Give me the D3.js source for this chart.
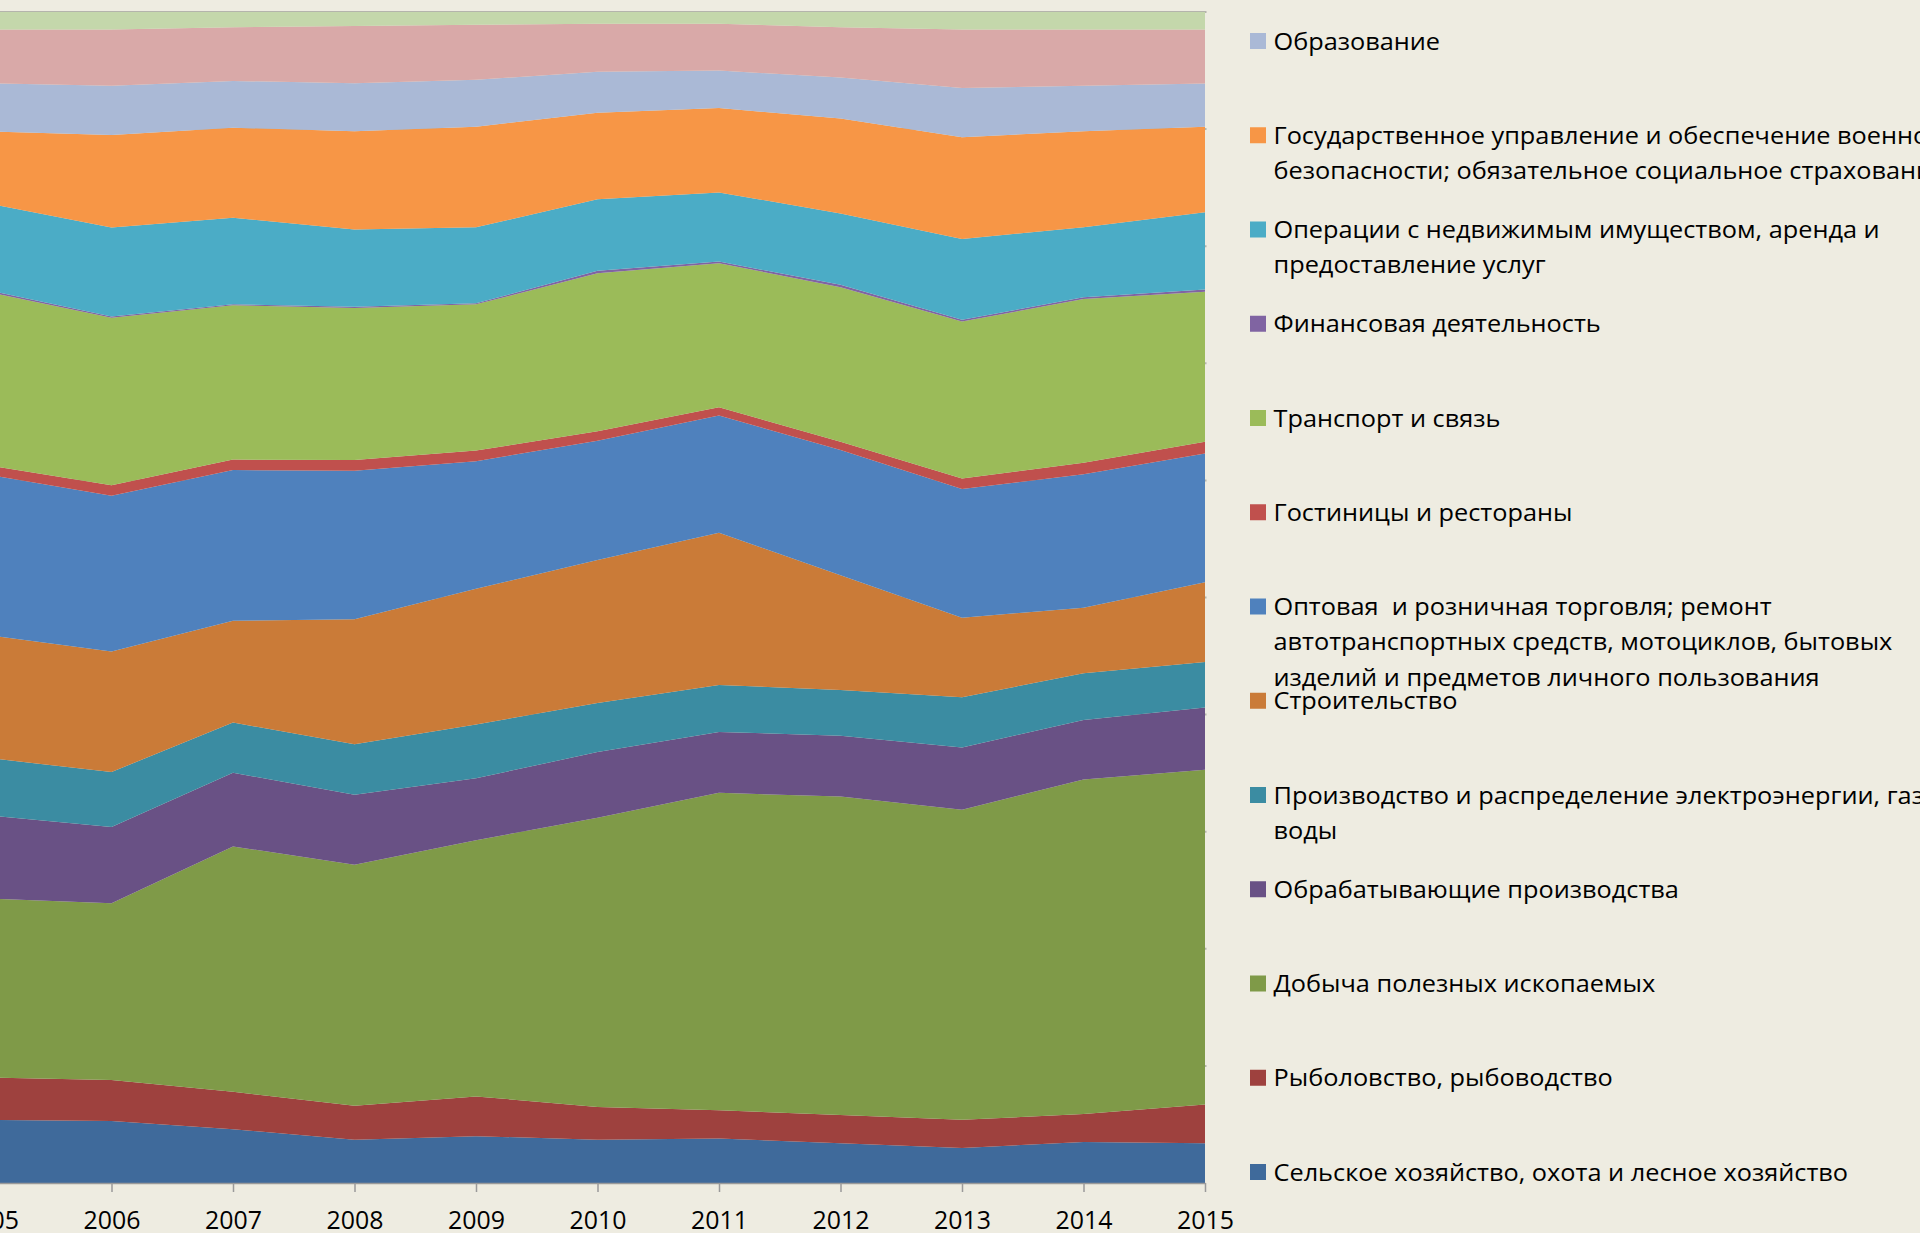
<!DOCTYPE html>
<html>
<head>
<meta charset="utf-8">
<script src="https://cdn.jsdelivr.net/npm/d3@7"></script>
<style>
  html, body { margin: 0; padding: 0; background: #EEECE1; overflow: hidden; }
  svg { display: block; }
</style>
</head>
<body>
<svg id="chart" width="1920" height="1233"></svg>
<script>
// годы по оси OX
const years = [2005, 2006, 2007, 2008, 2009, 2010, 2011, 2012, 2013, 2014, 2015];

// доли отраслей, % (снизу вверх)
const sAgri      = [5.4, 5.3, 4.6, 3.7, 4.0, 3.7, 3.8, 3.4, 3.0, 3.5, 3.4];
const sFish      = [3.6, 3.5, 3.2, 2.9, 3.4, 2.8, 2.4, 2.4, 2.4, 2.4, 3.3];
const sMining    = [15.3, 15.1, 21.0, 20.6, 21.9, 24.7, 27.1, 27.2, 26.5, 28.6, 28.6];
const sManuf     = [7.1, 6.5, 6.3, 6.0, 5.3, 5.6, 5.2, 5.2, 5.3, 5.1, 5.3];
const sEnergy    = [4.9, 4.7, 4.3, 4.3, 4.6, 4.2, 4.0, 3.9, 4.3, 4.0, 3.9];
const sConstr    = [10.5, 10.3, 8.7, 10.7, 11.6, 12.2, 13.0, 9.8, 6.8, 5.6, 6.8];
const sTrade     = [13.7, 13.3, 12.9, 12.7, 10.9, 10.2, 10.0, 10.7, 11.0, 11.4, 11.0];
const sHotels    = [0.8, 0.9, 0.9, 0.9, 0.9, 0.8, 0.7, 0.7, 0.9, 1.0, 1.0];
const sTransport = [14.8, 14.3, 13.2, 13.0, 12.5, 13.5, 12.3, 13.2, 13.4, 14.0, 12.8];
const sFinance   = [0.17, 0.11, 0.09, 0.11, 0.09, 0.21, 0.14, 0.2, 0.15, 0.14, 0.2];
const sRealty    = [7.4, 7.6, 7.4, 6.6, 6.5, 6.1, 5.9, 6.1, 6.9, 6.0, 6.6];
const sGov       = [6.2, 7.9, 7.7, 8.4, 8.6, 7.4, 7.2, 8.1, 8.7, 8.2, 7.3];
const sEdu       = [4.1, 4.2, 4.0, 4.1, 4.0, 3.5, 3.2, 3.5, 4.2, 3.9, 3.7];
const sHealth    = [4.6, 4.8, 4.6, 4.9, 4.7, 4.1, 4.0, 4.3, 5.0, 4.8, 4.6];
const sOther     = [1.5, 1.5, 1.3, 1.2, 1.1, 1.0, 1.0, 1.3, 1.5, 1.5, 1.5];

// подписи легенды (строки переноса как в оригинале)
const seriesNames = [
  ["Сельское хозяйство, охота и лесное хозяйство"],
  ["Рыболовство, рыбоводство"],
  ["Добыча полезных ископаемых"],
  ["Обрабатывающие производства"],
  ["Производство и распределение электроэнергии, газа и", "воды"],
  ["Строительство"],
  ["Оптовая  и розничная торговля; ремонт", "автотранспортных средств, мотоциклов, бытовых", "изделий и предметов личного пользования"],
  ["Гостиницы и рестораны"],
  ["Транспорт и связь"],
  ["Финансовая деятельность"],
  ["Операции с недвижимым имуществом, аренда и", "предоставление услуг"],
  ["Государственное управление и обеспечение военной", "безопасности; обязательное социальное страхование"],
  ["Образование"],
  ["Здравоохранение и предоставление социальных услуг"],
  ["Предоставление прочих коммунальных, социальных и", "персональных услуг"]
];
const seriesValues = [sAgri, sFish, sMining, sManuf, sEnergy, sConstr, sTrade,
                      sHotels, sTransport, sFinance, sRealty, sGov, sEdu, sHealth, sOther];
const colors = ["#3F6A9B", "#9E413E", "#7F9A48", "#695185", "#3B8CA2", "#CA7B38",
                "#4F81BD", "#C0504D", "#9BBB59", "#8064A2", "#4BACC6", "#F79646",
                "#AAB9D6", "#D9A9A8", "#C4D7AB"];

function drawChart() {
    let svg = d3.select("#chart");

    // область построения
    const area = { left: -10, right: 1205, top: 12, bottom: 1183 };

    // таблица для d3.stack
    const table = years.map((y, i) => {
        let row = { year: y };
        seriesValues.forEach((s, k) => row["s" + k] = s[i]);
        return row;
    });
    const keys = seriesValues.map((s, k) => "s" + k);

    const stacked = d3.stack()
        .keys(keys)
        .offset(d3.stackOffsetExpand)(table);

    let scX = d3.scaleLinear()
        .domain(d3.extent(years))
        .range([area.left, area.right]);
    let scY = d3.scaleLinear()
        .domain([0, 1])
        .range([area.bottom, area.top]);

    // линии сетки (видны только сверху и у правого края)
    svg.append("g")
        .selectAll("line")
        .data(d3.range(1, 11).map(d => d / 10))
        .enter()
        .append("line")
        .attr("x1", area.left)
        .attr("x2", area.right + 1.5)
        .attr("y1", d => scY(d))
        .attr("y2", d => scY(d))
        .attr("stroke", "#B4B4AC")
        .attr("stroke-width", 2);

    const areaGen = d3.area()
        .x(d => scX(d.data.year))
        .y0(d => scY(d[0]))
        .y1(d => scY(d[1]));

    svg.append("g")
        .selectAll("path")
        .data(stacked)
        .enter()
        .append("path")
        .attr("d", areaGen)
        .attr("fill", (d, i) => colors[i]);

    // ось OX
    let axisX = d3.axisBottom(scX)
        .tickValues(years)
        .tickFormat(d3.format("d"))
        .tickSize(9)
        .tickSizeOuter(0)
        .tickPadding(19);

    let gx = svg.append("g")
        .attr("transform", `translate(0, ${area.bottom})`)
        .call(axisX);
    gx.select(".domain").attr("stroke", "#9A9A9A").attr("stroke-width", 1.5);
    gx.selectAll(".tick line").attr("stroke", "#9A9A9A").attr("stroke-width", 1.5);
    gx.selectAll(".tick text")
        .attr("fill", "#000")
        .style("font-family", "'Open Sans', sans-serif")
        .style("font-size", "26px");

    // подгоняем ширину подписей под Calibri
    let probe = gx.selectAll(".tick text").filter(d => d === 2006).node();
    let kx = 57 / probe.getComputedTextLength();
    gx.selectAll(".tick text")
        .attr("transform", `scale(${kx},1)`);

    // легенда
    const leg = { x: 1250, box: 16, textX: 1273.5, top: 41, step: 94.25, lineH: 35.5 };
    const order = d3.range(seriesNames.length).reverse();

    let lg = svg.append("g");
    let items = lg.selectAll("g")
        .data(order)
        .enter()
        .append("g")
        .attr("transform", (k, j) => `translate(0, ${leg.top + leg.step * (j - 2)})`);

    items.append("rect")
        .attr("x", leg.x)
        .attr("y", -leg.box / 2)
        .attr("width", leg.box)
        .attr("height", leg.box)
        .attr("fill", k => colors[k]);

    let texts = items.append("text")
        .attr("transform", `translate(${leg.textX}, 8.5)`)
        .style("font-family", "'Open Sans', sans-serif")
        .style("font-size", "23.5px")
        .attr("fill", "#000");

    texts.selectAll("tspan")
        .data(k => seriesNames[k])
        .enter()
        .append("tspan")
        .attr("x", 0)
        .attr("y", (d, i) => i * leg.lineH)
        .attr("xml:space", "preserve")
        .style("white-space", "pre")
        .text(d => d);

    let ref = texts.filter(k => k === 0).node();
    let kl = 575 / ref.getComputedTextLength();
    texts.attr("transform", `translate(${leg.textX}, 8.5) scale(${kl},1)`);
}

drawChart();
</script>
</body>
</html>
